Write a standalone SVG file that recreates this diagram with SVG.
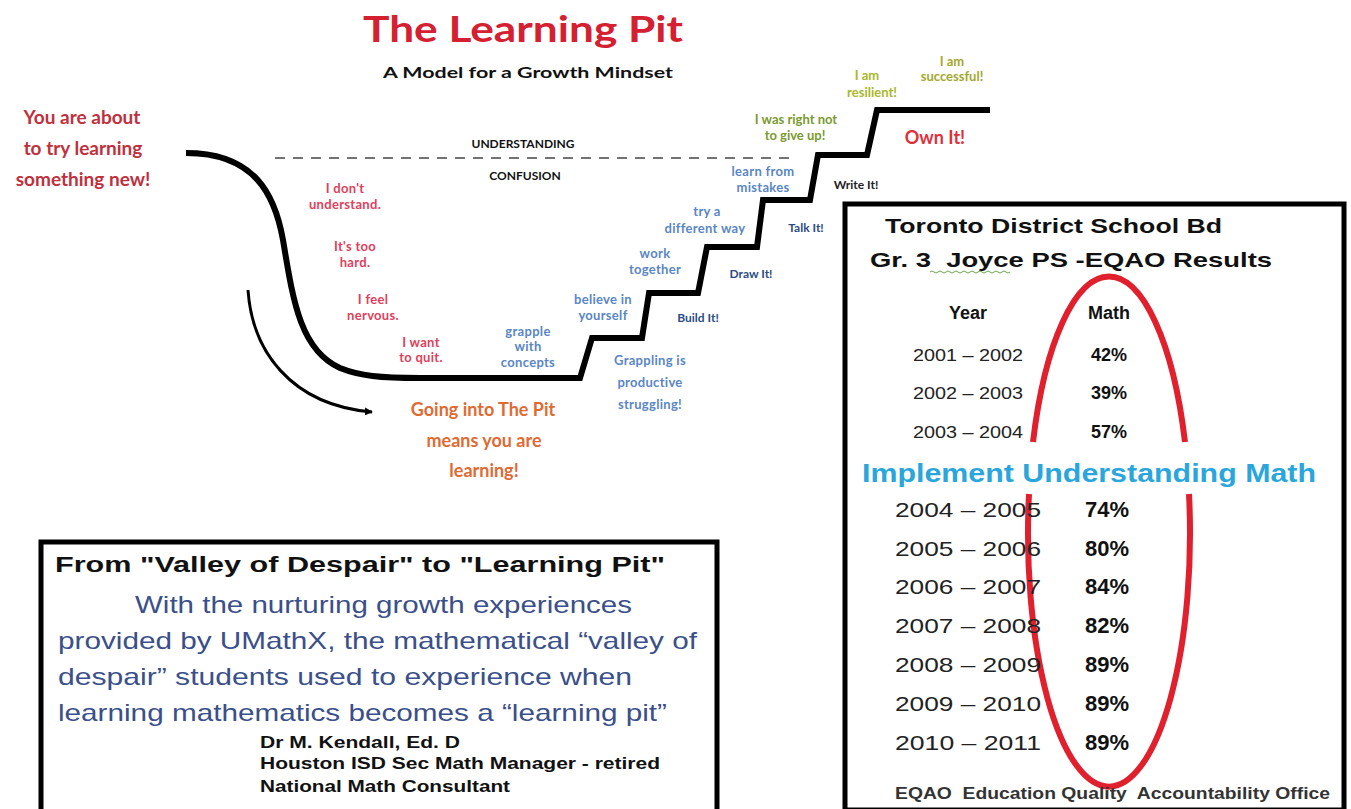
<svg xmlns="http://www.w3.org/2000/svg" width="1351" height="809" viewBox="0 0 1351 809">
<defs>
<marker id="ah" viewBox="0 0 10 10" refX="9" refY="5" markerWidth="8" markerHeight="8" orient="auto" markerUnits="userSpaceOnUse">
<path d="M0,0 L10,5 L0,10 z" fill="#000"/>
</marker>
</defs>
<style>
.hand{font-family:Lato,"Open Sans","DejaVu Sans",sans-serif;font-weight:bold;text-anchor:middle}
.feel{fill:#e0405c;font-size:13px;letter-spacing:0.3px}
.blue{fill:#5a86c4;font-size:13px;letter-spacing:0.3px}
.dk{fill:#2c4c84;font-size:12px}
.ar{font-family:"Liberation Sans",Arial,sans-serif}
.yr{font-size:16px;fill:#222;text-anchor:middle}
.pc{font-size:18px;font-weight:bold;fill:#111;text-anchor:middle}
.yrb{font-size:21px;fill:#222}
.pcb{font-size:22px;font-weight:bold;fill:#111}
.quote{font-size:24px;fill:#3b4f8a}
.sig{font-size:17px;font-weight:bold;fill:#111}
</style>
<rect width="1351" height="809" fill="#fff"/>

<g id="title">
<text x="523" y="42" class="hand" font-size="36" fill="#d42030" font-weight="900" textLength="320" lengthAdjust="spacingAndGlyphs">The Learning Pit</text>
<text x="528" y="78" class="hand" font-size="16" fill="#111" textLength="290" lengthAdjust="spacingAndGlyphs">A Model for a Growth Mindset</text>
</g>

<g id="start-label" class="hand" fill="#c0303c" font-size="19">
<text x="82" y="124">You are about</text>
<text x="83" y="155">to try learning</text>
<text x="83" y="186">something new!</text>
</g>

<g id="zones" class="hand" fill="#111" font-size="12">
<text x="523" y="148">UNDERSTANDING</text>
<line x1="275" y1="158" x2="795" y2="158" stroke="#444" stroke-width="1.5" stroke-dasharray="10 8"/>
<text x="525" y="180">CONFUSION</text>
</g>

<g id="pit">
<path d="M186 153 C255 153,275 195,283 240 C293 300,300 350,340 368 C360 376,380 378,420 378 L580 378 L592 338 L642 338 L649 293 L698 293 L707 247 L757 247 L763 200 L810 200 L818 155 L867 155 L877 110 L990 110" fill="none" stroke="#000" stroke-width="6" stroke-linejoin="miter"/>
</g>

<g id="feelings" class="hand feel">
<text x="345" y="193">I don't</text><text x="345" y="209">understand.</text>
<text x="355" y="251">It's too</text><text x="355" y="267">hard.</text>
<text x="373" y="304">I feel</text><text x="373" y="320">nervous.</text>
<text x="421" y="347">I want</text><text x="421" y="362">to quit.</text>
</g>

<g id="strategies" class="hand blue">
<text x="528" y="336">grapple</text><text x="528" y="351">with</text><text x="528" y="367">concepts</text>
<text x="603" y="304">believe in</text><text x="603" y="320">yourself</text>
<text x="655" y="258">work</text><text x="655" y="274">together</text>
<text x="707" y="216">try a</text><text x="705" y="233">different way</text>
<text x="763" y="176">learn from</text><text x="763" y="192">mistakes</text>
<text x="650" y="365">Grappling is</text><text x="650" y="387">productive</text><text x="650" y="409">struggling!</text>
</g>

<g id="actions" class="hand dk">
<text x="698" y="322">Build It!</text>
<text x="751" y="278">Draw It!</text>
<text x="806" y="232">Talk It!</text>
<text x="856" y="189" fill="#222">Write It!</text>
<text x="935" y="144" font-size="18" fill="#e0303a">Own It!</text>
</g>

<g id="success" class="hand" font-size="13">
<text x="796" y="124" fill="#7a9a30">I was right not</text><text x="795" y="140" fill="#7a9a30">to give up!</text>
<text x="867" y="80" fill="#a8b82a">I am</text><text x="872" y="97" fill="#a8b82a">resilient!</text>
<text x="952" y="66" fill="#a3a830">I am</text><text x="952" y="81" fill="#a3a830">successful!</text>
</g>

<g id="pit-note" class="hand" fill="#e06a32" font-size="18">
<text x="483" y="416">Going into The Pit</text>
<text x="484" y="447">means you are</text>
<text x="484" y="477">learning!</text>
</g>

<g id="connectors">
<path d="M248 290 C252 350,290 405,372 412" fill="none" stroke="#000" stroke-width="3" marker-end="url(#ah)"/>
</g>

<g id="results-box">
<rect x="845" y="204" width="499" height="606" fill="#fff" stroke="#000" stroke-width="5"/>
<text x="885" y="233" class="ar" font-size="21" font-weight="bold" fill="#111" textLength="337" lengthAdjust="spacingAndGlyphs">Toronto District School Bd</text>
<text x="870" y="267" class="ar" font-size="21" font-weight="bold" fill="#111" textLength="402" lengthAdjust="spacingAndGlyphs" xml:space="preserve">Gr. 3  Joyce PS -EQAO Results</text>
<path d="M930 272 q2 -2 4 0 t4 0 t4 0 t4 0 t4 0 t4 0 t4 0 t4 0 t4 0 t4 0 t4 0 t4 0 t4 0 t4 0 t4 0 t4 0 t4 0 t4 0 t4 0 t4 0" fill="none" stroke="#6aa84f" stroke-width="1"/>
<g class="ar">
<text x="968" y="319" font-size="18" font-weight="bold" fill="#111" text-anchor="middle">Year</text>
<text x="1109" y="319" font-size="18" font-weight="bold" fill="#111" text-anchor="middle">Math</text>
<text x="968" y="361" class="yr" textLength="110" lengthAdjust="spacingAndGlyphs">2001 – 2002</text><text x="1109" y="361" class="pc">42%</text>
<text x="968" y="399" class="yr" textLength="110" lengthAdjust="spacingAndGlyphs">2002 – 2003</text><text x="1109" y="399" class="pc">39%</text>
<text x="968" y="438" class="yr" textLength="110" lengthAdjust="spacingAndGlyphs">2003 – 2004</text><text x="1109" y="438" class="pc">57%</text>
</g>
<path d="M1033 442 A81 253 0 0 1 1185 442" fill="none" stroke="#e0202c" stroke-width="6"/>
<path d="M1189 494 A81 253 0 1 1 1029 494" fill="none" stroke="#e0202c" stroke-width="6"/>
<text x="862" y="482" class="ar" font-size="26" font-weight="bold" fill="#2ba6dc" textLength="454" lengthAdjust="spacingAndGlyphs">Implement Understanding Math</text>
<g class="ar">
<text x="895" y="517" class="yrb" textLength="146" lengthAdjust="spacingAndGlyphs">2004 – 2005</text><text x="1085" y="517" class="pcb">74%</text>
<text x="895" y="556" class="yrb" textLength="146" lengthAdjust="spacingAndGlyphs">2005 – 2006</text><text x="1085" y="556" class="pcb">80%</text>
<text x="895" y="594" class="yrb" textLength="146" lengthAdjust="spacingAndGlyphs">2006 – 2007</text><text x="1085" y="594" class="pcb">84%</text>
<text x="895" y="633" class="yrb" textLength="146" lengthAdjust="spacingAndGlyphs">2007 – 2008</text><text x="1085" y="633" class="pcb">82%</text>
<text x="895" y="672" class="yrb" textLength="146" lengthAdjust="spacingAndGlyphs">2008 – 2009</text><text x="1085" y="672" class="pcb">89%</text>
<text x="895" y="711" class="yrb" textLength="146" lengthAdjust="spacingAndGlyphs">2009 – 2010</text><text x="1085" y="711" class="pcb">89%</text>
<text x="895" y="750" class="yrb" textLength="146" lengthAdjust="spacingAndGlyphs">2010 – 2011</text><text x="1085" y="750" class="pcb">89%</text>
<text x="895" y="799" font-size="17" font-weight="bold" fill="#333" textLength="435" lengthAdjust="spacingAndGlyphs" xml:space="preserve">EQAO  Education Quality  Accountability Office</text>
</g>
</g>

<g id="quote-box" class="ar">
<rect x="41" y="542" width="676" height="270" fill="#fff" stroke="#000" stroke-width="5"/>
<text x="55" y="572" font-size="22" font-weight="bold" fill="#111" textLength="610" lengthAdjust="spacingAndGlyphs">From "Valley of Despair" to "Learning Pit"</text>
<text x="135" y="613" class="quote" textLength="497" lengthAdjust="spacingAndGlyphs">With the nurturing growth experiences</text>
<text x="58" y="649" class="quote" textLength="639" lengthAdjust="spacingAndGlyphs">provided by UMathX, the mathematical “valley of</text>
<text x="58" y="685" class="quote" textLength="574" lengthAdjust="spacingAndGlyphs">despair” students used to experience when</text>
<text x="58" y="721" class="quote" textLength="609" lengthAdjust="spacingAndGlyphs">learning mathematics becomes a “learning pit”</text>
<text x="260" y="748" class="sig" textLength="200" lengthAdjust="spacingAndGlyphs">Dr M. Kendall, Ed. D</text>
<text x="260" y="769" class="sig" textLength="400" lengthAdjust="spacingAndGlyphs">Houston ISD Sec Math Manager - retired</text>
<text x="260" y="792" class="sig" textLength="250" lengthAdjust="spacingAndGlyphs">National Math Consultant</text>
</g>
</svg>
